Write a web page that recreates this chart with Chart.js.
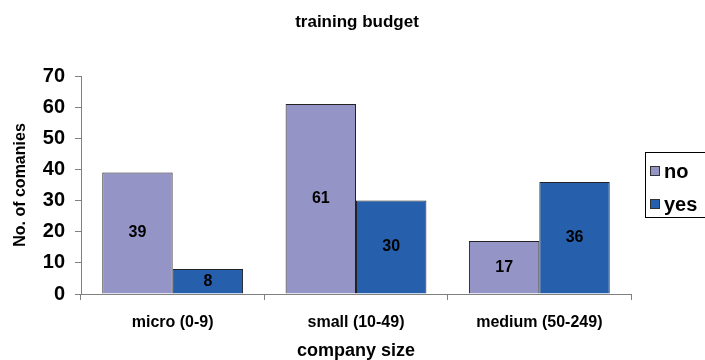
<!DOCTYPE html>
<html><head><meta charset="utf-8">
<script src="https://cdn.jsdelivr.net/npm/chart.js@4/dist/chart.umd.min.js"></script>
<style>html,body{margin:0;padding:0;background:#fff}#wrap{width:705px;height:360px}</style>
</head><body><div id="wrap"><canvas id="c" width="705" height="360"></canvas></div>
<script>
const categories = ["micro (0-9)", "small (10-49)", "medium (50-249)"];
const seriesNames = ["no", "yes"];
const noValues = [39, 61, 17];
const yesValues = [8, 30, 36];
const yTicks = [0, 10, 20, 30, 40, 50, 60, 70];
const chartTitle = "training budget";
const xTitle = "company size";
const yTitle = "No. of comanies";

const colors = ["#9494C6", "#2660AC"];
const FONT = "'Liberation Sans', Arial, sans-serif";

const extras = {
  id: 'extras',
  afterDatasetsDraw(chart) {
    const ctx = chart.ctx;
    ctx.save();
    ctx.fillStyle = '#000';
    ctx.font = 'bold 16px ' + FONT;
    ctx.textAlign = 'center';
    ctx.textBaseline = 'middle';
    chart.data.datasets.forEach((ds, i) => {
      chart.getDatasetMeta(i).data.forEach((bar, j) => {
        const y = (bar.y + bar.base) / 2;
        ctx.fillText(String(ds.data[j]), bar.x, y);
      });
    });
    // title
    ctx.font = 'bold 17px ' + FONT;
    ctx.fillText(chartTitle, 357, 22);
    // legend
    ctx.strokeStyle = '#000';
    ctx.lineWidth = 1;
    ctx.strokeRect(645.5, 152.5, 70, 65);
    ctx.textAlign = 'left';
    ctx.font = 'bold 20px ' + FONT;
    seriesNames.forEach((n, i) => {
      const cy = 171 + i * 33;
      ctx.fillStyle = colors[i];
      ctx.fillRect(650, cy - 5, 10, 10);
      ctx.strokeStyle = '#333';
      ctx.strokeRect(650.5, cy - 4.5, 9, 9);
      ctx.fillStyle = '#000';
      ctx.fillText(n, 664, cy + 1);
    });
    ctx.restore();
  }
};

new Chart(document.getElementById('c'), {
  type: 'bar',
  data: {
    labels: categories,
    datasets: [
      { label: seriesNames[0], data: noValues, backgroundColor: colors[0], borderColor: '#222', borderWidth: 1 },
      { label: seriesNames[1], data: yesValues, backgroundColor: colors[1], borderColor: '#222', borderWidth: 1 }
    ]
  },
  options: {
    responsive: false,
    animation: false,
    devicePixelRatio: 1,
    layout: { padding: { top: 76, right: 74, left: 0, bottom: 0 } },
    plugins: { legend: { display: false }, title: { display: false }, tooltip: { enabled: false } },
    datasets: { bar: { categoryPercentage: 0.768, barPercentage: 1.0 } },
    scales: {
      x: {
        grid: { display: true, offset: true, drawOnChartArea: false, drawTicks: true, tickLength: 6, color: '#808080' },
        border: { color: '#808080', width: 1 },
        ticks: { color: '#000', font: { family: FONT, size: 16, weight: 'bold' }, padding: 13 },
        title: { display: true, text: xTitle, color: '#000', font: { family: FONT, size: 18, weight: 'bold' }, padding: { top: 8, bottom: -2 } },
        afterFit(s) { s.height = 66; }
      },
      y: {
        min: 0, max: 70,
        afterBuildTicks(s) { s.ticks = yTicks.map(v => ({ value: v })); },
        grid: { display: true, drawOnChartArea: false, drawTicks: true, tickLength: 6, color: '#808080' },
        border: { color: '#808080', width: 1 },
        ticks: { color: '#000', font: { family: FONT, size: 20, weight: 'bold' }, padding: 10 },
        title: { display: true, text: yTitle, color: '#000', font: { family: FONT, size: 16, weight: 'bold' }, padding: { top: 11, bottom: 4 } },
        afterFit(s) { s.width = 81; }
      }
    }
  },
  plugins: [extras]
});
</script></body></html>
